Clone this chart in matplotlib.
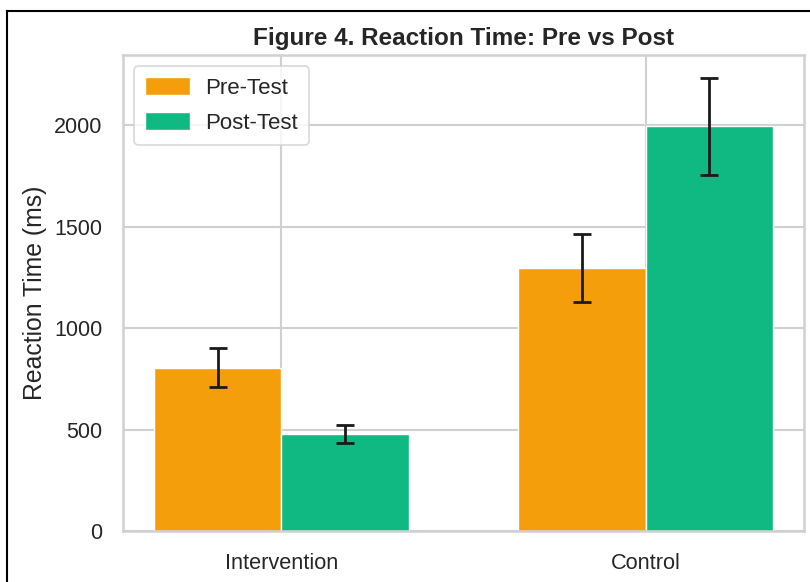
import matplotlib
matplotlib.use("Agg")
import matplotlib.pyplot as plt
import numpy as np
from matplotlib.lines import Line2D

groups = ["Intervention", "Control"]
series = ["Pre-Test", "Post-Test"]
pre_means = [806, 1298]
pre_sd = [94, 167]
post_means = [480, 1995]
post_sd = [45, 240]
colors = ["#f59e0b", "#10b981"]
yticks = [0, 500, 1000, 1500, 2000]

plt.rcParams['font.family'] = ['Liberation Sans', 'DejaVu Sans']
text_color = "#262626"

fig = plt.figure(figsize=(8.1, 5.82), dpi=100)
W, H = 810, 582
ax = fig.add_axes([123 / W, 1 - 531 / H, 681 / W, (531 - 55) / H])

x = np.arange(len(groups))
width = 0.35
err_kw = dict(ecolor="#1a1a1a", elinewidth=2.0, capsize=6.5, capthick=2.0)
ax.bar(x - width / 2, pre_means, width, yerr=pre_sd, color=colors[0],
       edgecolor="white", linewidth=1, label=series[0], error_kw=err_kw, zorder=2)
ax.bar(x + width / 2, post_means, width, yerr=post_sd, color=colors[1],
       edgecolor="white", linewidth=1, label=series[1], error_kw=err_kw, zorder=2)

ax.set_xticks(x)
ax.set_xticklabels(groups, fontsize=15.7, color=text_color)
ax.set_yticks(yticks)
ax.set_yticklabels([str(v) for v in yticks], fontsize=15.5, color=text_color)
ax.tick_params(axis="x", length=0, pad=16)
ax.tick_params(axis="y", length=0, pad=15)
ax.set_ylabel("Reaction Time (ms)", fontsize=17.8, color=text_color, labelpad=5)
ax.set_title("Figure 4. Reaction Time: Pre vs Post", fontsize=17.5,
             fontweight="bold", color=text_color, pad=7)

ax.set_axisbelow(True)
ax.grid(True, color="#d0d0d0", linewidth=1.5)
for s in ax.spines.values():
    s.set_color("#d0d0d0")
    s.set_linewidth(1.8)

leg = ax.legend(loc="upper left", fontsize=16, frameon=True, fancybox=True,
                edgecolor="#d0d0d0", handlelength=2.0, handleheight=0.85,
                borderpad=0.5, labelspacing=0.6, handletextpad=0.7,
                borderaxespad=0.5)
leg.get_frame().set_linewidth(1.2)
for t in leg.get_texts():
    t.set_color(text_color)

# screenshot border (left and top)
fig.add_artist(Line2D([7 / W, 7 / W], [0, 1 - 11 / H], transform=fig.transFigure,
                      color="black", linewidth=1.5))
fig.add_artist(Line2D([7 / W, 1], [1 - 11 / H, 1 - 11 / H], transform=fig.transFigure,
                      color="black", linewidth=1.5))

fig.savefig("out.png", dpi=100)
